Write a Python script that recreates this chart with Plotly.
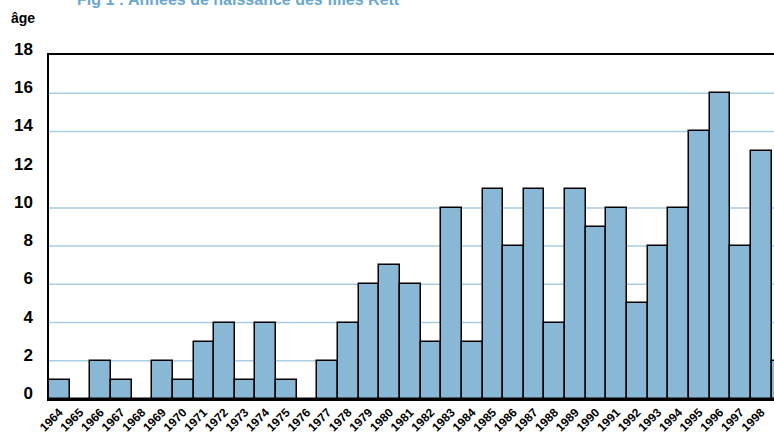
import plotly.graph_objects as go

years = ["1964", "1965", "1966", "1967", "1968", "1969", "1970", "1971", "1972",
         "1973", "1974", "1975", "1976", "1977", "1978", "1979", "1980", "1981",
         "1982", "1983", "1984", "1985", "1986", "1987", "1988", "1989", "1990",
         "1991", "1992", "1993", "1994", "1995", "1996", "1997", "1998", "1999"]
counts = [1, 0, 2, 1, 0, 2, 1, 3, 4, 1, 4, 1, 0, 2, 4, 6, 7, 6, 3, 10, 3, 11, 8,
          11, 4, 11, 9, 10, 5, 8, 10, 14, 16, 8, 13, 2]
y_ticks = [0, 2, 4, 6, 8, 10, 12, 14, 16, 18]
grid_values = [2, 4, 6, 8, 10, 14, 16]

title_text = "Fig 1 : Années de naissance des filles Rett"
y_label = "âge"

FONT = "Liberation Sans, Arial, sans-serif"
BAR = "#88b8d6"
GRID = "#a9cde2"

fig = go.Figure()
fig.add_trace(go.Bar(
    x=list(range(len(years))), y=counts,
    marker=dict(color=BAR, line=dict(color="#000000", width=1.5)),
    width=1.0,
))

shapes = []
for g in grid_values:
    shapes.append(dict(type="line", xref="paper", x0=0, x1=1, yref="y", y0=g, y1=g,
                       line=dict(color=GRID, width=1.5), layer="below"))

fig.update_layout(
    width=774, height=432,
    margin=dict(l=49, r=0, t=55, b=33, autoexpand=False),
    paper_bgcolor="white", plot_bgcolor="white",
    showlegend=False, bargap=0,
    shapes=shapes,
    xaxis=dict(
        tickmode="array", tickvals=list(range(len(years))), ticktext=years,
        range=[-0.5, 34.62], tickangle=-45, automargin=False,
        tickfont=dict(family=FONT, size=12, color="#000000", weight="bold"),
        showgrid=False, zeroline=False,
        showline=True, linecolor="#000000", linewidth=1.5, mirror=True,
        ticks="",
    ),
    yaxis=dict(
        range=[0, 18], tickmode="array", tickvals=y_ticks, automargin=False,
        tickfont=dict(family=FONT, size=17, color="#000000", weight="bold"),
        showgrid=False, zeroline=False,
        showline=True, linecolor="#000000", linewidth=1.5,
        ticks="", ticklabelstandoff=11, ticklabelshift=-6,
    ),
    annotations=[
        dict(text=title_text, xref="paper", yref="paper", x=0.0363, y=1.132,
             xanchor="left", yanchor="bottom", showarrow=False,
             font=dict(family=FONT, size=16, color="#6aa7cf", weight="bold")),
        dict(text=y_label, xref="paper", yref="paper", x=-0.0166, y=1.107,
             xanchor="right", yanchor="middle", showarrow=False,
             font=dict(family=FONT, size=14, color="#000000", weight="bold")),
    ],
)

fig.write_html(
    "out.html",
    config={"displayModeBar": False},
    post_script="document.body.style.margin='0';document.body.style.overflow='hidden';",
)
